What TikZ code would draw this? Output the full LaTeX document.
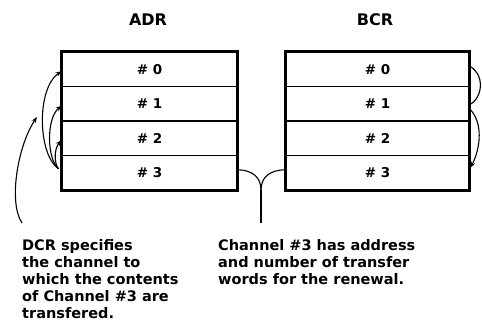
\documentclass[tikz,border=0pt]{standalone}
\usepackage{fontspec}
\setmainfont{DejaVu Sans}
\usetikzlibrary{arrows.meta,calc}
\begin{document}
\begin{tikzpicture}[x=1pt,y=1pt,
  row/.style={draw,line width=1.1pt,minimum height=34.5pt,inner sep=0pt,font=\fontsize{13.5}{13.5}\selectfont\bfseries},
  title/.style={font=\fontsize{16}{16}\selectfont\bfseries,inner sep=0pt},
  note/.style={font=\fontsize{14.5}{17}\selectfont\bfseries,align=left,inner sep=0pt,anchor=north west},
  link/.style={line width=1.1pt},
  tip/.style={-{Stealth[length=6pt,width=4.5pt]}}]
\useasboundingbox (0,0) rectangle (482,327);

% titles
\node[title] (tadr) at (148,307) {ADR};
\node[title] (tbcr) at (375,307) {BCR};

% ADR rows
\node[row,minimum width=175pt] (a0) at (149.5,257.75) {\# 0};
\node[row,minimum width=175pt] (a1) at (149.5,223.25) {\# 1};
\node[row,minimum width=175pt] (a2) at (149.5,188.75) {\# 2};
\node[row,minimum width=175pt] (a3) at (149.5,154.25) {\# 3};
\draw[line width=2pt] (a0.north west) rectangle (a3.south east);

% BCR rows
\node[row,minimum width=183pt] (b0) at (377.5,257.75) {\# 0};
\node[row,minimum width=183pt] (b1) at (377.5,223.25) {\# 1};
\node[row,minimum width=183pt] (b2) at (377.5,188.75) {\# 2};
\node[row,minimum width=183pt] (b3) at (377.5,154.25) {\# 3};
\draw[line width=2pt] (b0.north west) rectangle (b3.south east);

% left arcs (ADR #3 to #0,#1,#2)
\coordinate (src) at ($(a3.west)+(-3,4)$);
\draw[link,tip] (src) .. controls (38,172) and (36,238) .. ($(a0.west)+(0,-2)$);
\draw[link,tip] (src) .. controls (47,168) and (46,208) .. ($(a1.west)+(0,-2)$);
\draw[link,tip] (src) .. controls (54,164) and (54,178) .. ($(a2.west)+(0,-2)$);

% right arcs (BCR)
\draw[link] ($(b0.east)+(0,3)$) .. controls (484,254) and (484,230) .. ($(b1.east)+(0,-1)$);
\draw[link,tip] ($(b1.east)+(0,-5)$) .. controls (483,205) and (481,180) .. ($(b3.east)+(1,5)$);

% notes
\node[note] (ndcr) at (22,88) {DCR specifies\\the channel to\\which the contents\\of Channel \#3 are\\transfered.};
\node[note] (nch) at (218,88) {Channel \#3 has address\\and number of transfer\\words for the renewal.};

% leader from DCR note
\coordinate (lead) at (37,210);
\draw[link,tip] ($(ndcr.north west)+(0,16)$) .. controls (8,125) and (18,182) .. (lead);

% brace between the two #3 rows
\coordinate (btip) at (261,137);
\draw[link] ($(a3.east)+(0,3)$) .. controls (252,157) and (261,150) .. (btip);
\draw[link] ($(b3.west)+(0,3)$) .. controls (270,157) and (261,150) .. (btip);
\draw[link] (btip) -- (btip |- {$(nch.north)+(0,16)$});
\end{tikzpicture}
\end{document}
